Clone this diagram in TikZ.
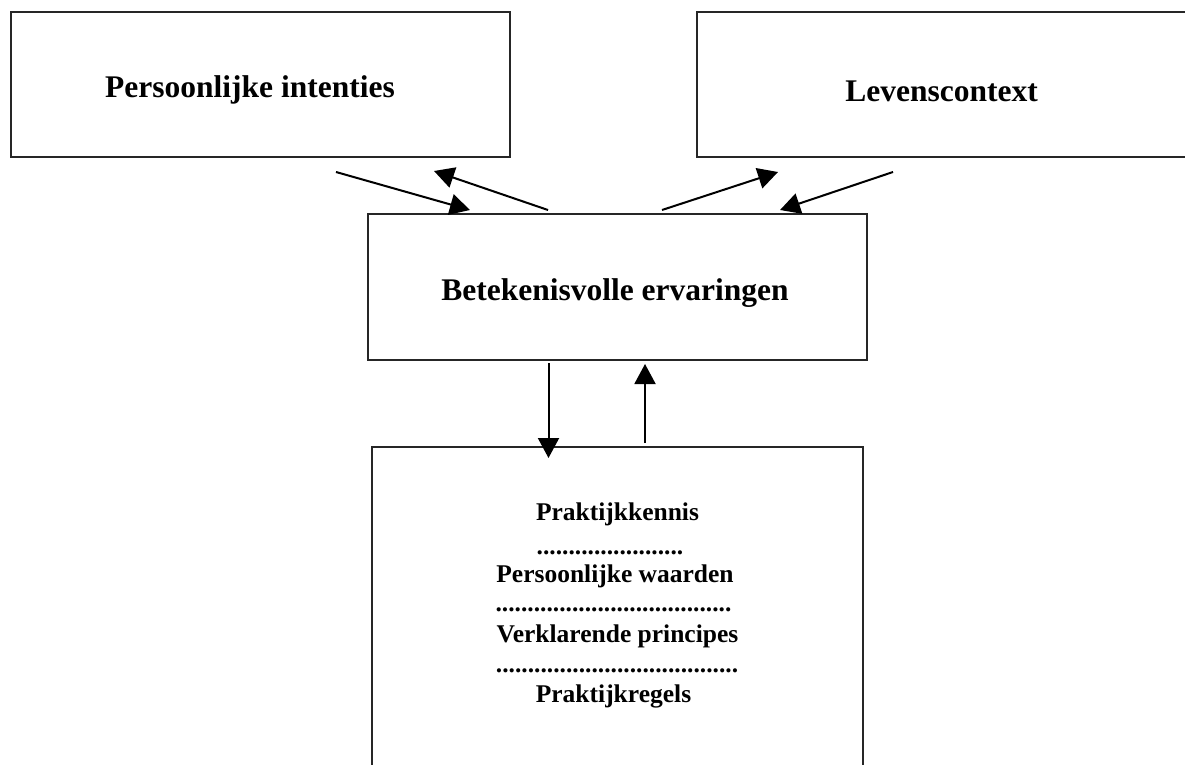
\documentclass[tikz,border=0pt]{standalone}
\usepackage{fontspec}
\setmainfont{Liberation Serif}
\usetikzlibrary{arrows.meta}

\newcount\dotcnt
\newcommand\dotrow[1]{\dotcnt=0 \loop\ifnum\dotcnt<#1 .\advance\dotcnt by 1 \repeat}

\tikzset{
  box/.style={draw=black!85, line width=2pt, rectangle, inner sep=0pt},
  bigtext/.style={font=\fontsize{31.5}{36}\selectfont\bfseries, inner sep=0pt, anchor=base},
  smalltext/.style={font=\fontsize{25.5}{30}\selectfont\bfseries, inner sep=0pt, anchor=base},
  arr/.style={line width=2pt, -{Triangle[length=20pt,width=21pt]}}
}

\begin{document}
\begin{tikzpicture}[x=1pt,y=-1pt]
  \useasboundingbox (0,0) rectangle (1185,764);
  \clip (0,0) rectangle (1185,764);

  % boxes
  \node[box, minimum width=499pt, minimum height=145.5pt] (pi) at (260.5,84.5) {};
  \node[box, minimum width=523pt, minimum height=145.5pt] (lc) at (958.5,84.5) {};
  \node[box, minimum width=499pt, minimum height=146.5pt] (be) at (617.5,286.75) {};
  \node[box, minimum width=491pt, minimum height=353pt] (pk) at (617,623.5) {};

  % box labels
  \node[bigtext] (pit) at (250,97) {Persoonlijke intenties};
  \node[bigtext] (lct) at (941.5,101) {Levenscontext};
  \node[bigtext] (bet) at (615,300) {Betekenisvolle ervaringen};

  \node[smalltext] (k1) at (617.5,520) {Praktijkkennis};
  \node[smalltext] (k2) at (610,554) {\dotrow{23}};
  \node[smalltext] (k3) at (615,582) {Persoonlijke waarden};
  \node[smalltext] (k4) at (613.5,611) {\dotrow{37}};
  \node[smalltext] (k5) at (617.5,642) {Verklarende principes};
  \node[smalltext] (k6) at (617,672) {\dotrow{38}};
  \node[smalltext] (k7) at (613.5,702) {Praktijkregels};

  % connector end points
  \coordinate (a1s) at (336,172);
  \coordinate (a1e) at (470,210);
  \coordinate (a2s) at (548,210);
  \coordinate (a2e) at (434,171);
  \coordinate (a3s) at (662,210);
  \coordinate (a3e) at (778,172);
  \coordinate (a4s) at (893,172);
  \coordinate (a4e) at (780,210);
  \coordinate (a5s) at (548.5,363);
  \coordinate (a5e) at (548.5,458);
  \coordinate (a6s) at (645,443);
  \coordinate (a6e) at (645,364);

  % connectors
  \draw[arr] (a1s) -- (a1e);
  \draw[arr] (a2s) -- (a2e);
  \draw[arr] (a3s) -- (a3e);
  \draw[arr] (a4s) -- (a4e);
  \draw[arr] (a5s) -- (a5e);
  \draw[arr] (a6s) -- (a6e);
\end{tikzpicture}
\end{document}
